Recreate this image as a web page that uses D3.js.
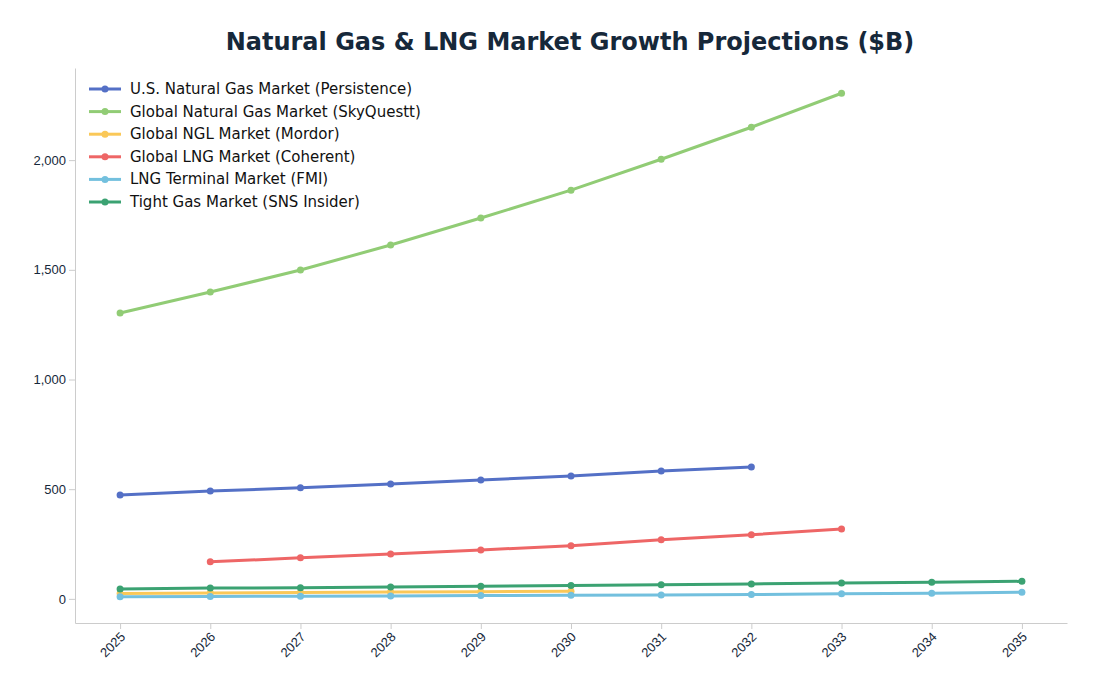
<!DOCTYPE html><html><head><meta charset="utf-8"><script src="https://cdn.jsdelivr.net/npm/d3@7"></script>
<style>body{margin:0;background:#fff;font-family:"DejaVu Sans",sans-serif}</style></head><body><svg id="c" width="1096" height="697"></svg><script>
const years=[2025,2026,2027,2028,2029,2030,2031,2032,2033,2034,2035];
const usGas=[474,492,506,524,542,560,583,601];
const globalGas=[1303,1399,1499,1613,1736,1863,2004,2150,2305];
const ngl=[25,27,29,31,33,35];
const lng=[null,169,187,205,223,242,269,292,319];
const terminal=[10,11,12,13,15,16,18,20,23,26,30];
const tight=[45,49,51,54,57,61,64,68,72,76,80];
const yTicks=[0,500,1000,1500,2000];
const series=[
{name:"U.S. Natural Gas Market (Persistence)",v:usGas,c:"#5470c6"},
{name:"Global Natural Gas Market (SkyQuestt)",v:globalGas,c:"#91cc75"},
{name:"Global NGL Market (Mordor)",v:ngl,c:"#fac858",nodots:true},
{name:"Global LNG Market (Coherent)",v:lng,c:"#ee6666"},
{name:"LNG Terminal Market (FMI)",v:terminal,c:"#73c0de"},
{name:"Tight Gas Market (SNS Insider)",v:tight,c:"#3ba272"}];
const svg=d3.select("#c");
const L=75,R=1067,T=68,B=623;
const x=d3.scaleLinear().domain([2024.5,2035.5]).range([L,R]);
const y=d3.scaleLinear().domain([-110,2420]).range([B,T]);
svg.append("text").attr("x",570).attr("y",50).attr("text-anchor","middle").attr("font-size",24).attr("font-weight","bold").attr("fill","#16283a").text("Natural Gas & LNG Market Growth Projections ($B)");
const ax=svg.append("g").attr("transform",`translate(0,${B})`).call(d3.axisBottom(x).tickValues(years).tickFormat(d3.format("d")).tickSizeOuter(0));
ax.selectAll("text").attr("transform","rotate(-45)").attr("text-anchor","end").attr("dx","-0.5em").attr("dy","0.4em").attr("font-size",13).attr("fill","#16283a");
const ay=svg.append("g").attr("transform",`translate(${L},0)`).call(d3.axisLeft(y).tickValues(yTicks).tickSizeOuter(0));
ay.selectAll("text").attr("font-size",13).attr("fill","#16283a");
[ax,ay].forEach(a=>{a.select(".domain").attr("stroke","#ccc");a.selectAll(".tick line").attr("stroke","#ccc");});
const line=d3.line().defined(d=>d[1]!=null).x(d=>x(d[0])).y(d=>y(d[1]));
series.forEach(s=>{
 const pts=s.v.map((v,i)=>[years[i],v]);
 svg.append("path").attr("d",line(pts)).attr("fill","none").attr("stroke",s.c).attr("stroke-width",3);
 svg.selectAll(null).data(pts.filter(p=>p[1]!=null)).enter().append("circle").attr("cx",d=>x(d[0])).attr("cy",d=>y(d[1])).attr("r",3.5).attr("fill",s.c);
});
const lg=svg.append("g").attr("transform","translate(89,89)");
series.forEach((s,i)=>{const g=lg.append("g").attr("transform",`translate(0,${i*22.6})`);
 g.append("line").attr("x1",0).attr("x2",32).attr("stroke",s.c).attr("stroke-width",3);
 g.append("circle").attr("cx",16).attr("r",3.5).attr("fill",s.c);
 g.append("text").attr("x",41).attr("y",5).attr("font-size",15).attr("fill","#111").text(s.name);});
</script></body></html>
